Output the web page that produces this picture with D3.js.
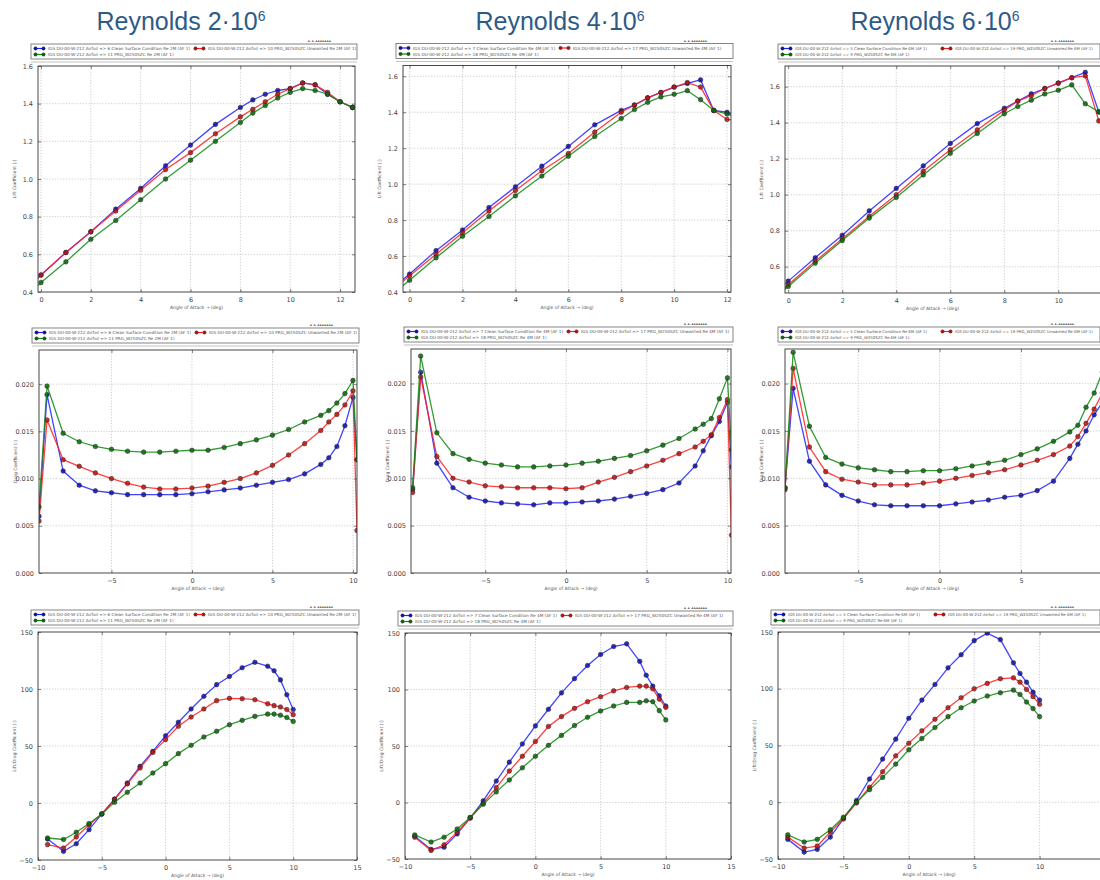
<!DOCTYPE html>
<html>
<head>
<meta charset="utf-8">
<script src="https://cdn.jsdelivr.net/npm/d3@7"></script>
<style>
  html, body { margin: 0; padding: 0; background: #ffffff; }
  svg { display: block; }
</style>
</head>
<body>
<svg id="chart" width="1100" height="880"></svg>
<script>
// ---------------- DATA ----------------
const reynolds = ["2", "4", "6"];
const reLabels = ["2M", "4M", "6M"];
const caseNums = [["6", "10", "11"], ["7", "17", "18"], ["5", "19", "9"]];

// Row 1 : lift coefficient vs angle of attack
const alphaCl = [-0.5, 0, 1, 2, 3, 4, 5, 6, 7, 8, 8.5, 9, 9.5, 10, 10.5, 11, 11.5, 12, 12.5];
const clBlue2M  = [0.43, 0.49, 0.61, 0.72, 0.84, 0.95, 1.07, 1.18, 1.29, 1.38, 1.42, 1.45, 1.47, 1.48, 1.51, 1.50, 1.45, 1.41, 1.38];
const clRed2M   = [0.43, 0.49, 0.61, 0.72, 0.83, 0.94, 1.05, 1.14, 1.24, 1.33, 1.37, 1.41, 1.45, 1.48, 1.51, 1.50, 1.46, 1.41, 1.38];
const clGreen2M = [0.39, 0.45, 0.56, 0.68, 0.78, 0.89, 1.00, 1.10, 1.20, 1.30, 1.35, 1.39, 1.43, 1.46, 1.48, 1.47, 1.45, 1.41, 1.38];
const clBlue4M  = [0.44, 0.50, 0.63, 0.745, 0.87, 0.985, 1.10, 1.21, 1.33, 1.41, 1.44, 1.48, 1.51, 1.54, 1.56, 1.58, 1.41, 1.40, 1.36];
const clRed4M   = [0.43, 0.49, 0.61, 0.73, 0.85, 0.965, 1.075, 1.17, 1.29, 1.40, 1.44, 1.48, 1.51, 1.54, 1.565, 1.54, 1.41, 1.36, 1.35];
const clGreen4M = [0.405, 0.465, 0.59, 0.71, 0.82, 0.935, 1.045, 1.155, 1.265, 1.365, 1.415, 1.455, 1.485, 1.50, 1.52, 1.47, 1.41, 1.39, 1.37];
const clBlue6M  = [0.46, 0.52, 0.65, 0.775, 0.91, 1.035, 1.16, 1.285, 1.395, 1.48, 1.52, 1.56, 1.59, 1.62, 1.65, 1.68, 1.46, 1.44, 1.42];
const clRed6M   = [0.44, 0.50, 0.63, 0.755, 0.88, 1.00, 1.13, 1.25, 1.36, 1.47, 1.52, 1.55, 1.59, 1.62, 1.65, 1.66, 1.41, 1.40, 1.39];
const clGreen6M = [0.43, 0.49, 0.62, 0.745, 0.87, 0.985, 1.11, 1.23, 1.34, 1.45, 1.49, 1.525, 1.56, 1.58, 1.61, 1.505, 1.46, 1.44, 1.42];

// Row 2 : drag coefficient vs angle of attack
const alphaCd = [-9.5, -9, -8, -7, -6, -5, -4, -3, -2, -1, 0, 1, 2, 3, 4, 5, 6, 7, 8, 8.5, 9, 9.5, 10, 10.25];
const cdBlue2M  = [0.0060, 0.0189, 0.0108, 0.0093, 0.0087, 0.0085, 0.0083, 0.0083, 0.0083, 0.0083, 0.0084, 0.0086, 0.0088, 0.0090, 0.0093, 0.0096, 0.0099, 0.0105, 0.0115, 0.0122, 0.0134, 0.0156, 0.0186, 0.0120];
const cdRed2M   = [0.0055, 0.0162, 0.0120, 0.0113, 0.0106, 0.0100, 0.0095, 0.0091, 0.0089, 0.0089, 0.0090, 0.0092, 0.0096, 0.0100, 0.0106, 0.0114, 0.0125, 0.0137, 0.0151, 0.0160, 0.0168, 0.0178, 0.0193, 0.0045];
const cdGreen2M = [0.0070, 0.0198, 0.0148, 0.0139, 0.0134, 0.0131, 0.0129, 0.0128, 0.0128, 0.0129, 0.0130, 0.0130, 0.0133, 0.0137, 0.0141, 0.0146, 0.0152, 0.0160, 0.0167, 0.0172, 0.0180, 0.0190, 0.0204, 0.0120];
const cdBlue4M  = [0.0088, 0.0212, 0.0116, 0.0090, 0.0080, 0.0076, 0.0074, 0.0073, 0.0072, 0.0074, 0.0074, 0.0075, 0.0076, 0.0078, 0.0081, 0.0084, 0.0088, 0.0095, 0.0113, 0.0129, 0.0145, 0.0160, 0.0180, 0.0112];
const cdRed4M   = [0.0085, 0.0207, 0.0123, 0.0100, 0.0096, 0.0092, 0.0091, 0.0090, 0.0090, 0.0090, 0.0089, 0.0090, 0.0096, 0.0101, 0.0107, 0.0113, 0.0119, 0.0126, 0.0133, 0.0139, 0.0146, 0.0164, 0.0183, 0.0040];
const cdGreen4M = [0.0090, 0.0229, 0.0148, 0.0126, 0.0120, 0.0116, 0.0114, 0.0112, 0.0112, 0.0113, 0.0114, 0.0116, 0.0118, 0.0121, 0.0124, 0.0129, 0.0135, 0.0142, 0.0152, 0.0157, 0.0163, 0.0184, 0.0206, 0.0130];
const cdBlue6M  = [0.0090, 0.0195, 0.0118, 0.0093, 0.0082, 0.0076, 0.0072, 0.0071, 0.0071, 0.0071, 0.0071, 0.0073, 0.0075, 0.0077, 0.0080, 0.0082, 0.0087, 0.0097, 0.0121, 0.0136, 0.0150, 0.0167, 0.0180, 0.0120];
const cdRed6M   = [0.0088, 0.0216, 0.0133, 0.0107, 0.0099, 0.0096, 0.0093, 0.0093, 0.0093, 0.0095, 0.0097, 0.0100, 0.0103, 0.0106, 0.0109, 0.0114, 0.0119, 0.0125, 0.0134, 0.0144, 0.0158, 0.0173, 0.0190, 0.0050];
const cdGreen6M = [0.0090, 0.0233, 0.0155, 0.0122, 0.0115, 0.0111, 0.0109, 0.0107, 0.0107, 0.0108, 0.0108, 0.0110, 0.0113, 0.0116, 0.0119, 0.0125, 0.0131, 0.0139, 0.0149, 0.0156, 0.0175, 0.0190, 0.0212, 0.0130];

// Row 3 : lift/drag ratio vs angle of attack
const alphaLD = [-9.25, -8, -7, -6, -5, -4, -3, -2, -1, 0, 1, 2, 3, 4, 5, 6, 7, 8, 8.5, 9, 9.5, 10];
const ldBlue2M  = [-31.6, -42.4, -35.7, -23.4, -9.6, 3.5, 17.5, 32.2, 45.3, 59, 70.8, 82.5, 93.6, 103.8, 111, 118.7, 123.4, 120, 116, 108, 95, 82];
const ldRed2M   = [-36.5, -39.5, -29.8, -19, -9.6, 3, 16.7, 30.7, 44.4, 55.6, 67.3, 75.4, 82.5, 89.8, 91.8, 91.5, 90.6, 87, 85.4, 84.2, 82, 77.5];
const ldGreen2M = [-30.7, -32, -25.7, -18, -9.6, 0.6, 9.4, 17.5, 26.3, 34.5, 43.3, 50.6, 57.9, 62.9, 68.7, 72.5, 76, 78, 78, 77, 75, 71.6];
const ldBlue4M  = [-29.8, -41.5, -39.5, -27.8, -13.7, 1.5, 19, 35.7, 51.8, 67.8, 82.5, 97, 109.6, 121.3, 131, 138, 140.4, 124.9, 112.6, 103, 94.4, 85.4];
const ldRed4M   = [-30.7, -42.4, -37.4, -26.3, -13.7, -0.6, 13.2, 27.8, 40.9, 54, 67.3, 76, 83.3, 89.2, 93.6, 98.8, 101.8, 103, 103, 100.6, 91.5, 84.2];
const ldGreen4M = [-28.7, -35, -30.7, -23.4, -13.2, -1.5, 9.4, 19.9, 30.7, 40.9, 50.6, 59.4, 68.1, 75.4, 81, 85.4, 88.6, 88.6, 90, 89.2, 81.3, 73.1];
const ldBlue6M  = [-32.7, -43.9, -41.5, -30.7, -14.6, 1.5, 20.5, 38, 55.6, 74, 90, 103.8, 118.4, 130, 142.4, 149, 143.3, 122.8, 113.5, 105.8, 97, 90];
const ldRed6M   = [-30.7, -40.4, -38.6, -26.3, -14.6, -0.6, 13.2, 26.9, 40.9, 52, 62.9, 73.1, 83.3, 92.1, 100, 104.7, 108.8, 109.6, 105.8, 99.4, 93, 86.3];
const ldGreen6M = [-28.7, -35, -32.7, -24.3, -13.2, 0, 11.1, 21.9, 33.6, 46.2, 56.1, 65.8, 75.4, 83.3, 89.2, 93.6, 96.5, 98.8, 95, 88.3, 82.5, 75.4];

// tick values
const clTicks = [0, 2, 4, 6, 8, 10, 12];
const clYTicks = [0.4, 0.6, 0.8, 1.0, 1.2, 1.4, 1.6];
const cdXTicks = [-5, 0, 5, 10];
const cdYTicks = [0, 0.005, 0.010, 0.015, 0.020];
const ldXTicks = [-10, -5, 0, 5, 10, 15];
const ldYTicks = [-50, 0, 50, 100, 150];
const yTitles = ["Lift Coefficient (-)", "Drag Coefficient (-)", "Lift/Drag Coefficient (-)"];
const xTitle = "Angle of Attack \u2192 (deg)";

// ---------------- LAYOUT ----------------
const svg = d3.select("#chart");
const colors = { blue: "#2323ff", red: "#ff2020", green: "#108a10" };
const markFill = { blue: "#1010b0", red: "#c01010", green: "#0a6a0a" };
const minusFmt = v => v < 0 ? "\u2212" + Math.abs(v) : String(v);

const panels = [
  // row 1
  { row: 0, col: 0, x: [38, 355], y: [292, 66], xd: [-0.12, 12.6], yd: [0.4, 1.6], xt: clTicks, yt: clYTicks, ax: alphaCl, s: [clBlue2M, clRed2M, clGreen2M], yf: d3.format(".1f"), xf: d3.format("d") },
  { row: 0, col: 1, x: [403, 731], y: [292, 65.5], xd: [-0.25, 12.15], yd: [0.4, 1.66], xt: clTicks, yt: clYTicks, ax: alphaCl, s: [clBlue4M, clRed4M, clGreen4M], yf: d3.format(".1f"), xf: d3.format("d") },
  { row: 0, col: 2, x: [785, 1105], y: [293, 66], xd: [-0.12, 11.73], yd: [0.454, 1.715], xt: clTicks, yt: clYTicks.slice(1), ax: alphaCl, s: [clBlue6M, clRed6M, clGreen6M], yf: d3.format(".1f"), xf: d3.format("d") },
  // row 2
  { row: 1, col: 0, x: [39, 357], y: [573, 350], xd: [-9.5, 10.25], yd: [0, 0.02362], xt: cdXTicks, yt: cdYTicks, ax: alphaCd, s: [cdBlue2M, cdRed2M, cdGreen2M], yf: d3.format(".3f"), xf: minusFmt },
  { row: 1, col: 1, x: [411, 731], y: [573, 349], xd: [-9.6, 10.22], yd: [0, 0.02365], xt: cdXTicks, yt: cdYTicks, ax: alphaCd, s: [cdBlue4M, cdRed4M, cdGreen4M], yf: d3.format(".3f"), xf: minusFmt },
  { row: 1, col: 2, x: [785, 1108], y: [573, 349], xd: [-9.5, 10.35], yd: [0, 0.02365], xt: cdXTicks.slice(0, 3), yt: cdYTicks, ax: alphaCd, s: [cdBlue6M, cdRed6M, cdGreen6M], yf: d3.format(".3f"), xf: minusFmt },
  // row 3
  { row: 2, col: 0, x: [38, 357], y: [860, 632], xd: [-10, 15], yd: [-50, 150], xt: ldXTicks, yt: ldYTicks, ax: alphaLD, s: [ldBlue2M, ldRed2M, ldGreen2M], yf: minusFmt, xf: minusFmt },
  { row: 2, col: 1, x: [405, 731], y: [859, 633], xd: [-10, 15], yd: [-50, 150], xt: ldXTicks, yt: ldYTicks, ax: alphaLD, s: [ldBlue4M, ldRed4M, ldGreen4M], yf: minusFmt, xf: minusFmt },
  { row: 2, col: 2, x: [778, 1105], y: [859, 632], xd: [-10, 15], yd: [-50, 150], xt: ldXTicks, yt: ldYTicks, ax: alphaLD, s: [ldBlue6M, ldRed6M, ldGreen6M], yf: minusFmt, xf: minusFmt }
];

// titles
const titleX = [181, 560, 935];
reynolds.forEach((r, i) => {
  const t = svg.append("text")
    .attr("x", titleX[i]).attr("y", 30)
    .attr("text-anchor", "middle")
    .attr("font-family", "'Liberation Sans', Arial, sans-serif")
    .attr("font-size", 25)
    .attr("fill", "#2d5b88");
  t.append("tspan").text("Reynolds " + r + "\u00b710");
  t.append("tspan").attr("dy", -9).attr("font-size", 14).text("6");
});

const seriesKeys = ["blue", "red", "green"];

panels.forEach((p, pi) => {
  const x = d3.scaleLinear().domain(p.xd).range(p.x);
  const y = d3.scaleLinear().domain(p.yd).range(p.y);
  const g = svg.append("g");
  const left = p.x[0], right = p.x[1], top = p.y[1], bottom = p.y[0];
  const visRight = Math.min(right, 1100);

  const clipId = "clip" + pi;
  svg.append("clipPath").attr("id", clipId)
    .append("rect").attr("x", left).attr("y", top).attr("width", right - left).attr("height", bottom - top);

  g.append("rect").attr("x", left).attr("y", top).attr("width", right - left).attr("height", bottom - top)
    .attr("fill", "#ffffff");

  // grid
  const grid = g.append("g").attr("stroke", "#b8b8b8").attr("stroke-width", 0.7).attr("stroke-dasharray", "1.2,1.6");
  p.xt.forEach(v => {
    const xx = x(v);
    if (xx > left + 0.5 && xx < right - 0.5)
      grid.append("line").attr("x1", xx).attr("x2", xx).attr("y1", top).attr("y2", bottom);
  });
  p.yt.forEach(v => {
    const yy = y(v);
    if (yy > top + 0.5 && yy < bottom - 0.5)
      grid.append("line").attr("x1", left).attr("x2", right).attr("y1", yy).attr("y2", yy);
  });

  // axes via d3 (inner ticks), labels only for ticks that are on screen
  const fontFam = "'DejaVu Sans', 'Liberation Sans', sans-serif";
  const xVisible = p.xt.filter(v => x(v) <= 1094);
  const xAxis = d3.axisBottom(x).tickValues(xVisible).tickSize(-3).tickPadding(5).tickFormat(p.xf);
  const yAxis = d3.axisLeft(y).tickValues(p.yt).tickSize(-3).tickPadding(5).tickFormat(p.yf);
  const gx = g.append("g").attr("transform", `translate(0,${bottom})`).call(xAxis);
  const gy = g.append("g").attr("transform", `translate(${left},0)`).call(yAxis);
  [gx, gy].forEach(a => {
    a.select(".domain").remove();
    a.selectAll("line").attr("stroke", "#333").attr("stroke-width", 0.6);
    a.selectAll("text").attr("font-family", fontFam).attr("font-size", 6.5).attr("fill", "#444");
  });
  const gxt = g.append("g").attr("transform", `translate(0,${top})`).call(d3.axisTop(x).tickValues(xVisible).tickSize(-3).tickFormat(""));
  const gyr = g.append("g").attr("transform", `translate(${right},0)`).call(d3.axisRight(y).tickValues(p.yt).tickSize(-3).tickFormat(""));
  [gxt, gyr].forEach(a => {
    a.select(".domain").remove();
    a.selectAll("line").attr("stroke", "#333").attr("stroke-width", 0.6);
  });

  // series
  const plot = g.append("g").attr("clip-path", `url(#${clipId})`);
  p.s.forEach((vals, si) => {
    const key = seriesKeys[si];
    const pts = p.ax.map((a, i) => [a, vals[i]]);
    const line = d3.line().x(d => x(d[0])).y(d => y(d[1]));
    plot.append("path").datum(pts)
      .attr("fill", "none").attr("stroke", colors[key]).attr("stroke-width", 1.3)
      .attr("stroke-opacity", 0.85)
      .attr("d", line);
    plot.selectAll(null).data(pts).enter().append("circle")
      .attr("cx", d => x(d[0])).attr("cy", d => y(d[1]))
      .attr("r", 2.3)
      .attr("fill", markFill[key]).attr("stroke", "#222").attr("stroke-width", 0.5)
      .attr("fill-opacity", 0.85);
  });

  // frame
  g.append("rect").attr("x", left).attr("y", top).attr("width", right - left).attr("height", bottom - top)
    .attr("fill", "none").attr("stroke", "#333").attr("stroke-width", 0.9);

  // axis titles
  g.append("text").attr("x", (left + visRight) / 2 + (p.col === 2 ? -10 : 0)).attr("y", bottom + 17)
    .attr("text-anchor", "middle").attr("font-family", fontFam).attr("font-size", 4.5).attr("fill", "#555")
    .text(xTitle);
  g.append("text").attr("transform", `translate(${left - 22},${(top + bottom) / 2}) rotate(-90)`)
    .attr("text-anchor", "middle").attr("font-family", fontFam).attr("font-size", 4.5).attr("fill", "#555")
    .text(yTitles[p.row]);

  // legend
  const lx = left - 7, ly = top - 22, lw = Math.min(right, 1098) - lx + 2, lh = 15;
  const lg = g.append("g");
  lg.append("rect").attr("x", lx).attr("y", ly).attr("width", lw).attr("height", lh)
    .attr("fill", "#fff").attr("stroke", "#666").attr("stroke-width", 0.8);
  lg.append("line").attr("x1", lx).attr("x2", lx + lw).attr("y1", ly + lh + 3).attr("y2", ly + lh + 3)
    .attr("stroke", "#999").attr("stroke-width", 0.6);
  const nums = caseNums[p.col];
  const labels = [
    `IGS DU-00-W-212 Airfoil  => ${nums[0]} Clean Surface Condition Re ${reLabels[p.col]} (AF 1)`,
    `IGS DU-00-W-212 Airfoil  => ${nums[1]} PRG_W250SZC Unwanted Re ${reLabels[p.col]} (AF 1)`,
    `IGS DU-00-W-212 Airfoil  => ${nums[2]} PRG_W250SZC Re ${reLabels[p.col]} (AF 1)`
  ];
  const entryPos = [[lx + 3, ly + 4.5], [lx + 163, ly + 4.5], [lx + 3, ly + 10.5]];
  const fs = p.col === 2 ? 3.9 : 4.2;
  seriesKeys.forEach((key, i) => {
    const [ex, ey] = entryPos[i];
    lg.append("line").attr("x1", ex).attr("x2", ex + 11).attr("y1", ey).attr("y2", ey)
      .attr("stroke", colors[key]).attr("stroke-width", 1.2);
    [ex + 1.5, ex + 9.5].forEach(cx => lg.append("circle").attr("cx", cx).attr("cy", ey).attr("r", 1.7)
      .attr("fill", markFill[key]).attr("stroke", "#222").attr("stroke-width", 0.4));
    lg.append("text").attr("x", ex + 14).attr("y", ey + 1.5)
      .attr("font-family", fontFam).attr("font-size", fs).attr("fill", "#555")
      .text(labels[i]);
  });
  // tiny toolbar marks above the legend
  lg.append("text").attr("x", Math.min(right, 1098) - 24).attr("y", ly - 2).attr("text-anchor", "end")
    .attr("font-family", fontFam).attr("font-size", 4.5).attr("fill", "#777")
    .text("\u25b4 \u25b4 \u25b4\u25b4\u25b4\u25b4\u25b4\u25b4\u25b4");
});
</script>
</body>
</html>
